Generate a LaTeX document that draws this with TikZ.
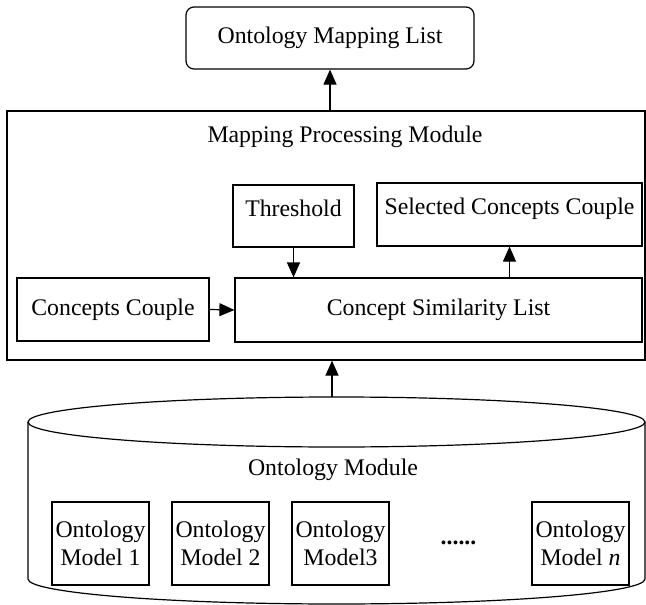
\documentclass[tikz,border=0pt]{standalone}
\usepackage{fontspec}
\setmainfont{Liberation Serif}
\usetikzlibrary{arrows.meta, positioning}

\begin{document}
\begin{tikzpicture}[x=1pt, y=-1pt, line width=1.2pt,
		every node/.style={font=\fontsize{23.8}{28}\selectfont},
		box/.style={draw, rectangle, inner sep=0pt},
		topbox/.style={box, text height=16pt, text depth=16pt},
		modelbox/.style={box, align=center, minimum width=97pt, minimum height=83pt},
		flow/.style={-{Triangle[length=15pt, width=13pt]}}]
				\useasboundingbox (0,0) rectangle (646,605);

				% Draw the mapping list on top
				\node[box, rounded corners=8pt, minimum width=288pt, minimum height=62pt] (oml) at (330,38) {Ontology Mapping List};

				% Draw the processing module
				\node[box, minimum width=638pt, minimum height=249pt] (mpm) at (326,235.5) {};
				\node (mpmtitle) at (345,137) {Mapping Processing Module};

				\node[topbox, minimum width=121pt, minimum height=62pt] (thr) at (293.5,216) {Threshold};
				\node[topbox, minimum width=265pt, minimum height=63pt] (sel) at (509.5,214.5) {Selected Concepts Couple};
				\node[box, minimum width=192pt, minimum height=63pt] (cc) at (113,309.5) {Concepts Couple};
				\node[box, minimum width=407pt, minimum height=64pt] (csl) at (438.5,310) {Concept Similarity List};

				% Draw the arrows inside the module
				\draw[flow] (cc.east) -- (csl.west);
				\draw[flow] (thr.south) -- (thr.south |- csl.north);
				\draw[flow] (sel.south |- csl.north) -- (sel.south);
				\draw[flow] (oml.south |- mpm.north) -- (oml.south);

				% Draw the ontology module as a cylinder
				\draw (28,422) -- (28,579) arc[start angle=180, end angle=360, x radius=308.5pt, y radius=25pt] -- (645,422);
				\draw (336.5,422) ellipse [x radius=308.5pt, y radius=25pt];
				\coordinate (cyltop) at (332,397);
				\draw[flow] (cyltop) -- (cyltop |- mpm.south);

				\node (om) at (333,470) {Ontology Module};

				% Draw the ontology models
				\node[modelbox] (m1) at (100.5,543.5) {Ontology\\Model 1};
				\node[modelbox] (m2) at (220.5,543.5) {Ontology\\Model 2};
				\node[modelbox] (m3) at (340.5,543.5) {Ontology\\Model3};
				\node (dots) at (458.5,543) {\textbf{......}};
				\node[modelbox] (mn) at (580.5,543.5) {Ontology\\Model \textit{n}};
			\end{tikzpicture}
\end{document}
